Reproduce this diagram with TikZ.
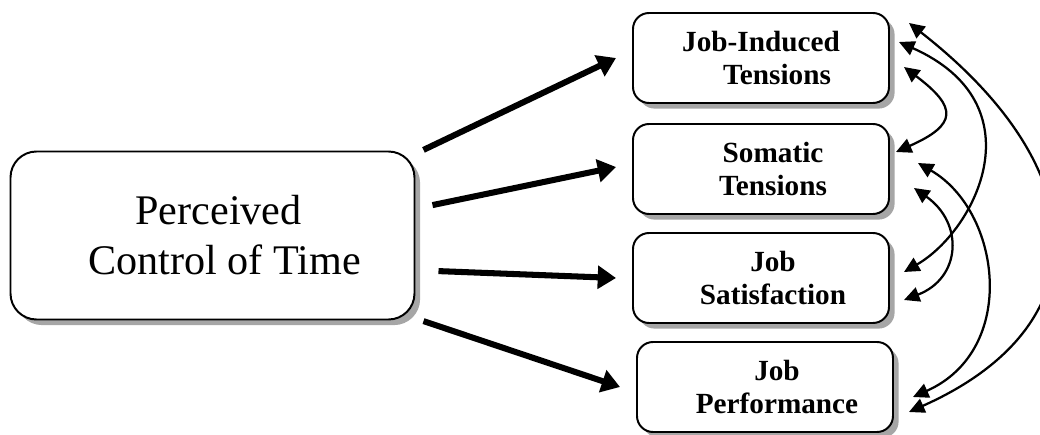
\documentclass[tikz,border=0pt]{standalone}
\usepackage{fontspec}
\setmainfont{Liberation Serif}
\usetikzlibrary{arrows.meta,positioning,shadows}

\begin{document}
\begin{tikzpicture}[
  box/.style={draw,line width=1.4pt,fill=white,align=center,inner sep=0pt,
    drop shadow={shadow xshift=0.14cm,shadow yshift=-0.14cm,fill=gray!70,opacity=1}},
  bigbox/.style={box,rounded corners=0.65cm,minimum width=10.1cm,minimum height=4.2cm,
    font=\fontsize{30}{35.6}\selectfont},
  smallbox/.style={box,rounded corners=0.4cm,minimum width=6.4cm,minimum height=2.25cm,
    font=\fontsize{20.8}{23.5}\selectfont\bfseries},
  effect/.style={line width=4.3pt,-{Triangle[length=13pt,width=16pt]}},
  corr/.style={line width=1.6pt,{Triangle[length=11pt,width=10.5pt]}-{Triangle[length=11pt,width=10.5pt]}}
]
  \useasboundingbox (0,0) rectangle (26,10.85);

  % Predictor
  \node[bigbox] (ctrl) at (5.3125,4.9625) {\hspace*{0.3cm}Perceived\\\hspace*{0.6cm}Control of Time};

  % Outcomes
  \node[smallbox] (jit) at (19.025,9.4) {Job-Induced\\\hspace*{0.8cm}Tensions};
  \node[smallbox] (stn) at (19.025,6.625) {\hspace*{0.6cm}Somatic\\\hspace*{0.6cm}Tensions};
  \node[smallbox] (jsat) at (19.025,3.9) {\hspace*{0.6cm}Job\\\hspace*{0.6cm}Satisfaction};
  \node[smallbox] (jperf) at (19.125,1.175) {\hspace*{0.6cm}Job\\\hspace*{0.6cm}Performance};

  % Paths from predictor
  \draw[effect] ([shift={(0.2,2.14)}]ctrl.east) -- ([xshift=-0.4cm]jit.west);
  \draw[effect] ([shift={(0.425,0.76)}]ctrl.east) -- ([shift={(-0.4,0.05)}]stn.west);
  \draw[effect] ([shift={(0.575,-0.89)}]ctrl.east) -- ([xshift=-0.4cm]jsat.west);
  \draw[effect] ([shift={(0.2,-2.14)}]ctrl.east) -- ([xshift=-0.4cm]jperf.west);

  % Correlations between outcomes
  \draw[corr] ([shift={(0.35,-0.225)}]jit.east) .. controls +(-37:1.68) and +(24:1.68) .. ([shift={(0.15,0.425)}]stn.east);
  \draw[corr] ([shift={(0.225,0.4)}]jit.east) .. controls +(-24:3.83) and +(30:2.08) .. ([shift={(0.35,0.15)}]jsat.east);
  \draw[corr] ([shift={(0.475,0.875)}]jit.east) .. controls +(-38:6.0) and +(24:5.25) .. ([shift={(0.375,-0.625)}]jperf.east);
  \draw[corr] ([shift={(0.7,0.15)}]stn.east) .. controls +(-30:2.4) and +(24:2.9) .. ([shift={(0.475,-0.25)}]jperf.east);
  \draw[corr] ([shift={(0.6,-0.475)}]stn.east) .. controls +(-35:1.53) and +(21:1.53) .. ([shift={(0.35,-0.55)}]jsat.east);
\end{tikzpicture}
\end{document}
